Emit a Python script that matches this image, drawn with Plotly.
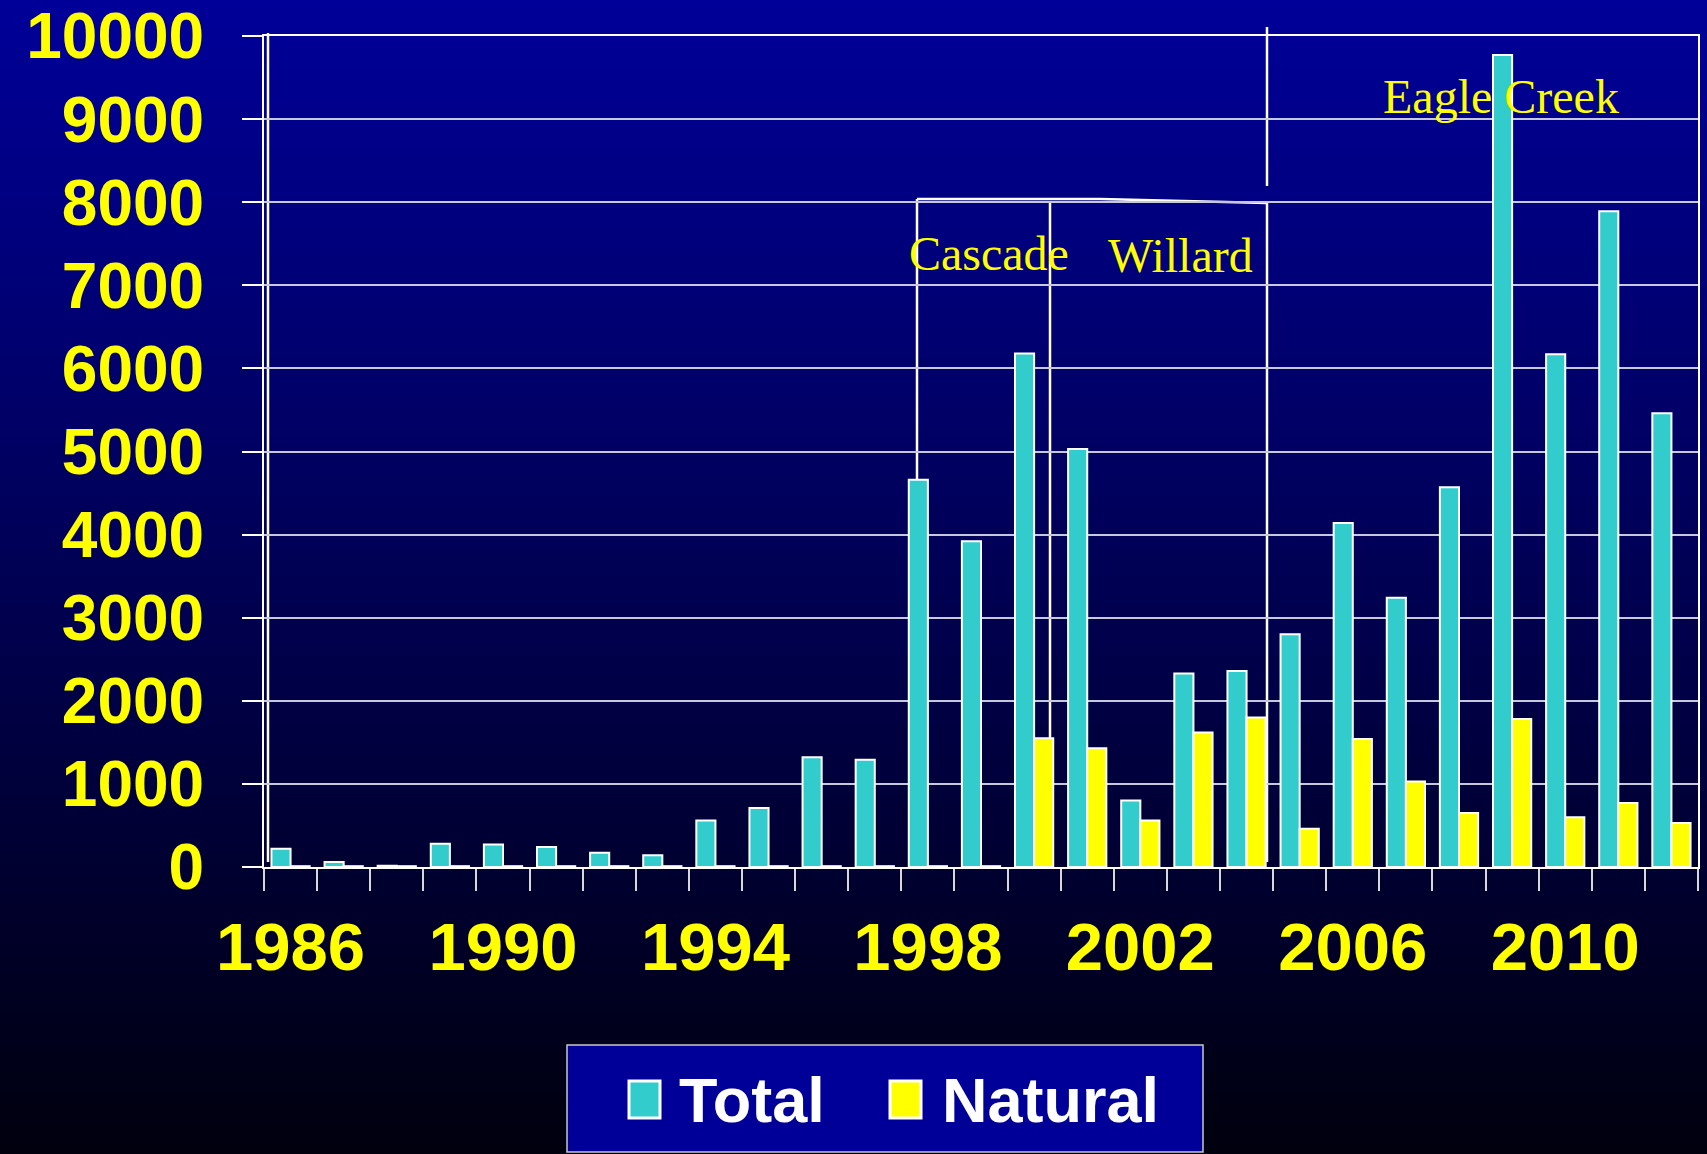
import plotly.graph_objects as go

# ---------------- data ----------------
years = [str(y) for y in range(1986, 2013)]
total = [220, 60, 15, 280, 270, 240, 170, 140, 560, 710,
         1320, 1290, 4660, 3920, 6180, 5030, 800, 2330, 2360, 2800,
         4140, 3240, 4570, 9770, 6170, 7890, 5460]
natural = [10, 10, 10, 10, 10, 10, 10, 10, 10, 10,
           10, 10, 10, 10, 1550, 1430, 560, 1620, 1800, 460,
           1540, 1030, 650, 1780, 600, 770, 530]
label_years = ["1986", "1990", "1994", "1998", "2002", "2006", "2010"]
tick_text = [y if y in label_years else "" for y in years]
series_names = ["Total", "Natural"]
series_colors = ["#33CCCC", "#FFFF00"]
fire_labels = ["Cascade", "Willard", "Eagle Creek"]

# ---------------- layout helpers ----------------
W, H = 1707, 1154
L, R, T, B = 264, 9, 36, 287
PW, PH = W - L - R, H - T - B


def px(x):
    return (x - L) / PW


def py(y):
    return (H - B - y) / PH


fig = go.Figure()
for name, vals, col in zip(series_names, [total, natural], series_colors):
    fig.add_trace(go.Bar(
        x=years, y=vals, name=name,
        marker=dict(color=col, line=dict(color="white", width=2)),
        showlegend=False,
    ))

shapes = []
# vertical gradient background
n = 116
top_c, bot_c = (0, 0, 153), (0, 0, 14)
for i in range(n):
    y0 = i * H / n
    y1 = (i + 1) * H / n + 1
    f = (i + 0.5) / n
    c = tuple(int(round(a + (b - a) * f)) for a, b in zip(top_c, bot_c))
    shapes.append(dict(type="rect", xref="paper", yref="paper",
                       x0=px(-5), x1=px(W + 5), y0=py(y1), y1=py(y0 - 1),
                       line=dict(width=0), fillcolor="rgb(%d,%d,%d)" % c,
                       layer="below"))

line_style = dict(color="white", width=2.5)
# bracket lines
for (x0, y0, x1, y1) in [(917, 199, 917, 862), (1050, 203, 1050, 862),
                         (1267, 203, 1267, 862), (1267, 27, 1267, 186),
                         (268, 33, 268, 862)]:
    shapes.append(dict(type="line", xref="paper", yref="paper",
                       x0=px(x0), x1=px(x1), y0=py(y0), y1=py(y1),
                       line=line_style, layer="below"))
shapes.append(dict(type="path", xref="paper", yref="paper",
                   path="M %f %f L %f %f L %f %f" % (px(917), py(199), px(1100), py(199), px(1267), py(203)),
                   line=line_style, layer="below"))

# manual legend
shapes.append(dict(type="rect", xref="paper", yref="paper",
                   x0=px(567), x1=px(1203), y0=py(1152), y1=py(1045),
                   fillcolor="#000099", line=dict(color="#C8C8C8", width=1.5),
                   layer="above"))
for (x0, col) in [(629, series_colors[0]), (890, series_colors[1])]:
    shapes.append(dict(type="rect", xref="paper", yref="paper",
                       x0=px(x0), x1=px(x0 + 31), y0=py(1118), y1=py(1081),
                       fillcolor=col, line=dict(color="white", width=3),
                       layer="above"))

annotations = []
for (txt, x, y) in zip(fire_labels, [989, 1180, 1501], [253, 256, 96]):
    annotations.append(dict(text=txt, xref="paper", yref="paper",
                            x=px(x), y=py(y), xanchor="center", yanchor="middle",
                            showarrow=False,
                            font=dict(family="Liberation Serif, Times New Roman, serif",
                                      size=48, color="#FFFF00")))
for (txt, x) in zip(series_names, [677, 940]):
    annotations.append(dict(text="<b>%s</b>" % txt, xref="paper", yref="paper",
                            x=px(x), y=py(1100), xanchor="left", yanchor="middle",
                            showarrow=False,
                            font=dict(family="Liberation Sans, Arial, sans-serif",
                                      size=63, color="white")))

x_tick_font = dict(family="Liberation Sans, Arial, sans-serif", size=67,
                   color="#FFFF00", weight="bold")
y_tick_font = dict(family="Liberation Sans, Arial, sans-serif", size=64,
                   color="#FFFF00", weight="bold")

fig.update_layout(
    width=W, height=H,
    margin=dict(l=L, r=R, t=T, b=B, pad=0, autoexpand=False),
    paper_bgcolor="#00000E",
    plot_bgcolor="rgba(0,0,0,0)",
    barmode="group", bargap=0.28, bargroupgap=0,
    shapes=shapes, annotations=annotations,
    xaxis=dict(type="category", tickvals=years, ticktext=tick_text,
               tickson="boundaries", ticks="outside", ticklen=22,
               tickcolor="#D8D8D8", tickwidth=1.5,
               showline=True, linecolor="white", linewidth=2, mirror=True,
               showgrid=False, tickfont=x_tick_font, tickangle=0,
               range=[-0.5, 26.5], ticklabelstandoff=21,
               ticklabeloverflow="allow", automargin=False),
    yaxis=dict(range=[0, 10000], dtick=1000, tick0=0, tickformat="d",
               showgrid=True, gridcolor="#C8C8DC", gridwidth=2,
               zeroline=False,
               showline=True, linecolor="white", linewidth=2, mirror=True,
               ticks="outside", ticklen=20, tickcolor="white", tickwidth=1.5,
               tickfont=y_tick_font, ticklabelstandoff=25,
               ticklabeloverflow="allow", automargin=False),
)

fig.write_html(
    "out.html",
    config={"displayModeBar": False},
    post_script="document.body.style.margin='0';document.body.style.overflow='hidden';",
)
